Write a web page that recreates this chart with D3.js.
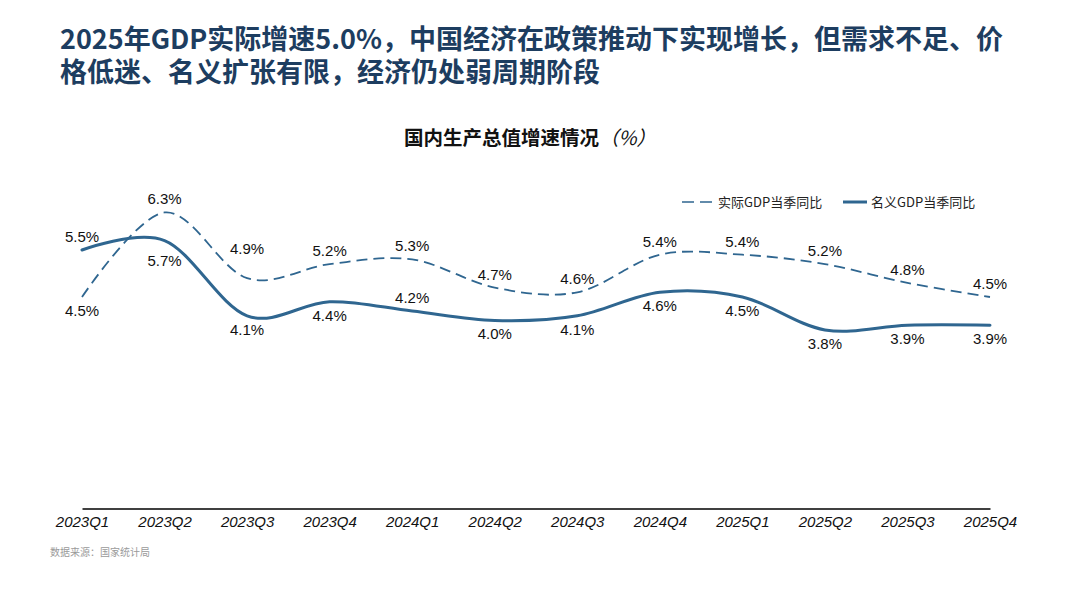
<!DOCTYPE html>
<html>
<head>
<meta charset="UTF-8">
<script src="https://cdn.jsdelivr.net/npm/d3@7"></script>
<title>国内生产总值增速情况</title>
<style>
  body { margin: 0; background: #fff; }
  svg { display: block; }
</style>
</head>
<body>
<svg id="chart"></svg>
<script>
// 数据
const quarters = ["2023Q1", "2023Q2", "2023Q3", "2023Q4", "2024Q1", "2024Q2",
                  "2024Q3", "2024Q4", "2025Q1", "2025Q2", "2025Q3", "2025Q4"];
const realGdp    = [4.5, 6.3, 4.9, 5.2, 5.3, 4.7, 4.6, 5.4, 5.4, 5.2, 4.8, 4.5];
const nominalGdp = [5.5, 5.7, 4.1, 4.4, 4.2, 4.0, 4.1, 4.6, 4.5, 3.8, 3.9, 3.9];
// 标签位置：负数在线上方，正数在线下方
const realLabelSide    = [1, -1, -2.2, -1, -1, -1, -1, -1, -1, -1, -1, -1];
const nominalLabelSide = [-1, 1.5, 1, 1, -1, 1, 1, 1, 1, 1, 1, 1];
const seriesNames = ["实际GDP当季同比", "名义GDP当季同比"];

const titleLines = ["2025年GDP实际增速5.0%，中国经济在政策推动下实现增长，但需求不足、价",
                    "格低迷、名义扩张有限，经济仍处弱周期阶段"];
const subTitle = "国内生产总值增速情况";
const unit = "（%）";
const source = "数据来源：国家统计局";

const width = 1067, height = 600;
const lineColor = "#2f6690";
const cjk = "'Noto Sans CJK SC', 'Noto Sans', sans-serif";
const latin = "'Liberation Sans', Arial, 'Noto Sans CJK SC', sans-serif";

const svg = d3.select("#chart")
    .attr("width", width)
    .attr("height", height)
    .attr("viewBox", [0, 0, width, height]);

// 标题
svg.append("text")
    .attr("font-family", cjk)
    .attr("font-weight", 700)
    .attr("font-size", 27)
    .attr("fill", "#1d3d60")
  .selectAll("tspan")
  .data(titleLines)
  .join("tspan")
    .attr("x", 60)
    .attr("y", (d, i) => 49 + i * 33)
    .text(d => d);

// 副标题
const sub = svg.append("text")
    .attr("x", 530)
    .attr("y", 145)
    .attr("text-anchor", "middle")
    .attr("font-family", cjk)
    .attr("font-size", 19.5)
    .attr("fill", "#111");
sub.append("tspan").attr("font-weight", 700).text(subTitle);
sub.append("tspan").attr("font-weight", 400).attr("font-style", "italic").text(unit);

const x = d3.scalePoint()
    .domain(quarters)
    .range([82, 990]);

const y = d3.scaleLinear()
    .domain([0, 7])
    .range([508.5, 179.5]);

// x 轴
svg.append("g")
    .attr("transform", `translate(0,${y(0)})`)
    .call(d3.axisBottom(x).tickSize(0).tickSizeOuter(0).tickPadding(8))
    .call(g => g.select(".domain").attr("stroke", "#000").attr("stroke-width", 1.3))
    .call(g => g.selectAll(".tick text")
        .attr("font-family", latin)
        .attr("font-style", "italic")
        .attr("font-size", 15)
        .attr("fill", "#111"));

const line = d3.line()
    .x((d, i) => x(quarters[i]))
    .y(d => y(d))
    .curve(d3.curveCardinal.tension(0));

svg.append("path")
    .datum(realGdp)
    .attr("fill", "none")
    .attr("stroke", lineColor)
    .attr("stroke-width", 1.8)
    .attr("stroke-dasharray", "11,6")
    .attr("d", line);

svg.append("path")
    .datum(nominalGdp)
    .attr("fill", "none")
    .attr("stroke", lineColor)
    .attr("stroke-width", 3)
    .attr("stroke-linecap", "round")
    .attr("d", line);

// 数据标签
function labels(values, sides) {
  svg.append("g")
      .attr("font-family", latin)
      .attr("font-size", 15)
      .attr("fill", "#111")
      .attr("text-anchor", "middle")
    .selectAll("text")
    .data(values)
    .join("text")
      .attr("x", (d, i) => x(quarters[i]))
      .attr("y", (d, i) => y(d) + sides[i] * 13.5)
      .attr("dy", "0.36em")
      .text(d => d.toFixed(1) + "%");
}
labels(realGdp, realLabelSide);
labels(nominalGdp, nominalLabelSide);

// 图例
const legend = svg.append("g")
    .attr("font-family", cjk)
    .attr("font-size", 13)
    .attr("fill", "#222");

legend.append("line")
    .attr("x1", 682).attr("x2", 713)
    .attr("y1", 202).attr("y2", 202)
    .attr("stroke", lineColor)
    .attr("stroke-width", 1.5)
    .attr("stroke-dasharray", "12,6");
legend.append("text")
    .attr("x", 718).attr("y", 202)
    .attr("dy", "0.36em")
    .text(seriesNames[0]);

legend.append("line")
    .attr("x1", 843).attr("x2", 867)
    .attr("y1", 202).attr("y2", 202)
    .attr("stroke", lineColor)
    .attr("stroke-width", 3);
legend.append("text")
    .attr("x", 871).attr("y", 202)
    .attr("dy", "0.36em")
    .text(seriesNames[1]);

// 资料来源
svg.append("text")
    .attr("x", 50)
    .attr("y", 556)
    .attr("font-family", cjk)
    .attr("font-size", 10)
    .attr("fill", "#9a9a9a")
    .text(source);
</script>
</body>
</html>
